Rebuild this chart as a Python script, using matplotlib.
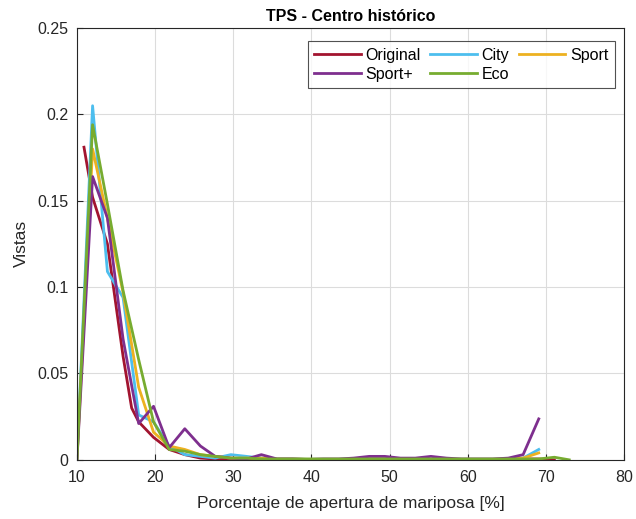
import matplotlib
matplotlib.use("Agg")
import matplotlib.pyplot as plt

plt.rcParams['font.family'] = ['Liberation Sans', 'DejaVu Sans']

# Bin positions (porcentaje de apertura)
x_bins = [10.0, 12.0, 13.9, 15.9, 17.9, 19.8, 21.8, 23.8, 25.8, 27.7,
          29.7, 31.7, 33.6, 35.6, 37.6, 39.5, 41.5, 43.5, 45.4, 47.4,
          49.4, 51.4, 53.3, 55.3, 57.3, 59.2, 61.2, 63.2, 65.2, 67.1,
          69.1, 71.1, 73.0]

# Original uses its own sampling
x_original = [10.9, 12.0, 13.9, 15.9, 17.0, 17.9, 19.8, 21.8, 23.8, 25.8,
              27.7, 29.7, 31.7, 33.6, 35.6, 37.6, 39.5, 41.5, 43.5, 45.4,
              47.4, 49.4, 51.4, 53.3, 55.3, 57.3, 59.2, 61.2, 63.2, 65.2,
              67.1, 69.1, 71.1]
y_original = [0.181, 0.152, 0.125, 0.060, 0.030, 0.022, 0.013, 0.006, 0.003, 0.001,
              0.0005, 0.0005, 0.0003, 0.0003, 0.0002, 0.0002, 0.0002, 0.0002, 0.0002, 0.0003,
              0.0005, 0.0005, 0.0003, 0.0003, 0.0003, 0.0002, 0.0002, 0.0002, 0.0002, 0.0003,
              0.0005, 0.0005, 0.0]

# City, Sport and Sport+ stop at 69.1 (31 bins)
y_city = [0.0, 0.205, 0.109, 0.094, 0.026, 0.022, 0.008, 0.003, 0.002, 0.001,
          0.003, 0.002, 0.001, 0.0005, 0.0005, 0.0003, 0.0003, 0.0003, 0.0005, 0.0005,
          0.0005, 0.0005, 0.0003, 0.0003, 0.0003, 0.0003, 0.0003, 0.0003, 0.0005, 0.001,
          0.006]
y_sport = [0.0, 0.180, 0.140, 0.097, 0.042, 0.016, 0.008, 0.006, 0.003, 0.002,
           0.001, 0.001, 0.001, 0.0005, 0.0005, 0.0003, 0.0003, 0.0003, 0.0003, 0.0005,
           0.0005, 0.0005, 0.0003, 0.0003, 0.0003, 0.0003, 0.0003, 0.0003, 0.0005, 0.001,
           0.004]
y_sport_plus = [0.0, 0.164, 0.140, 0.070, 0.021, 0.031, 0.007, 0.018, 0.008, 0.002,
                0.001, 0.0005, 0.003, 0.0005, 0.0005, 0.0002, 0.0005, 0.0005, 0.001, 0.002,
                0.002, 0.001, 0.001, 0.002, 0.001, 0.0005, 0.0005, 0.0005, 0.001, 0.003,
                0.0237]
y_eco = [0.0, 0.194, 0.148, 0.098, 0.058, 0.022, 0.006, 0.005, 0.003, 0.002,
         0.001, 0.001, 0.0005, 0.0005, 0.0005, 0.0005, 0.0005, 0.0005, 0.0005, 0.0005,
         0.0005, 0.0005, 0.0005, 0.0005, 0.0005, 0.0005, 0.0005, 0.0005, 0.0005, 0.0005,
         0.0005, 0.0015, 0.0]

labels = ['Original', 'City', 'Sport', 'Sport+', 'Eco']
colors = ['#A2142F', '#4DBEEE', '#EDB120', '#7E2F8E', '#77AC30']

fig = plt.figure(figsize=(6.36, 5.19), dpi=100)
ax = fig.add_axes([0.121, 0.114, 0.860, 0.832])

n = len(y_city)
lines = []
lines += ax.plot(x_original, y_original, color=colors[0], lw=2.0, label=labels[0])
lines += ax.plot(x_bins[:n], y_city, color=colors[1], lw=2.0, label=labels[1])
lines += ax.plot(x_bins[:n], y_sport, color=colors[2], lw=2.0, label=labels[2])
lines += ax.plot(x_bins[:n], y_sport_plus, color=colors[3], lw=2.0, label=labels[3])
lines += ax.plot(x_bins, y_eco, color=colors[4], lw=2.0, label=labels[4])

ax.set_xlim(10, 80)
ax.set_ylim(0, 0.25)
ax.set_xticks(range(10, 81, 10))
ax.set_yticks([0, 0.05, 0.1, 0.15, 0.2, 0.25])
ax.set_yticklabels(['0', '0.05', '0.1', '0.15', '0.2', '0.25'])

ax.grid(True, color='#dcdcdc', lw=0.8)
ax.set_axisbelow(True)
ax.tick_params(direction='in', length=4, labelsize=11.5, colors='#262626')
ax.tick_params(axis='x', pad=7)
ax.tick_params(axis='y', pad=6)
for s in ax.spines.values():
    s.set_color('#262626')
    s.set_linewidth(0.8)

ax.set_title('TPS - Centro histórico', fontsize=11.5, fontweight='bold', pad=5)
ax.set_xlabel('Porcentaje de apertura de mariposa [%]', fontsize=12.5,
              color='#262626', labelpad=8)
ax.set_ylabel('Vistas', fontsize=12.5, color='#262626', labelpad=6)

# matplotlib fills legend columns first; reorder so rows read like the reference
order = [0, 3, 1, 4, 2]
leg = ax.legend([lines[i] for i in order], [labels[i] for i in order],
                ncol=3, loc='upper right', bbox_to_anchor=(0.983, 0.969),
                fontsize=11.5, fancybox=False, edgecolor='#262626',
                handlelength=2.9, columnspacing=0.6, handletextpad=0.3,
                labelspacing=0.25, borderpad=0.4, borderaxespad=0.0)
leg.get_frame().set_linewidth(0.8)

fig.savefig('out.png', dpi=100, facecolor='white')
